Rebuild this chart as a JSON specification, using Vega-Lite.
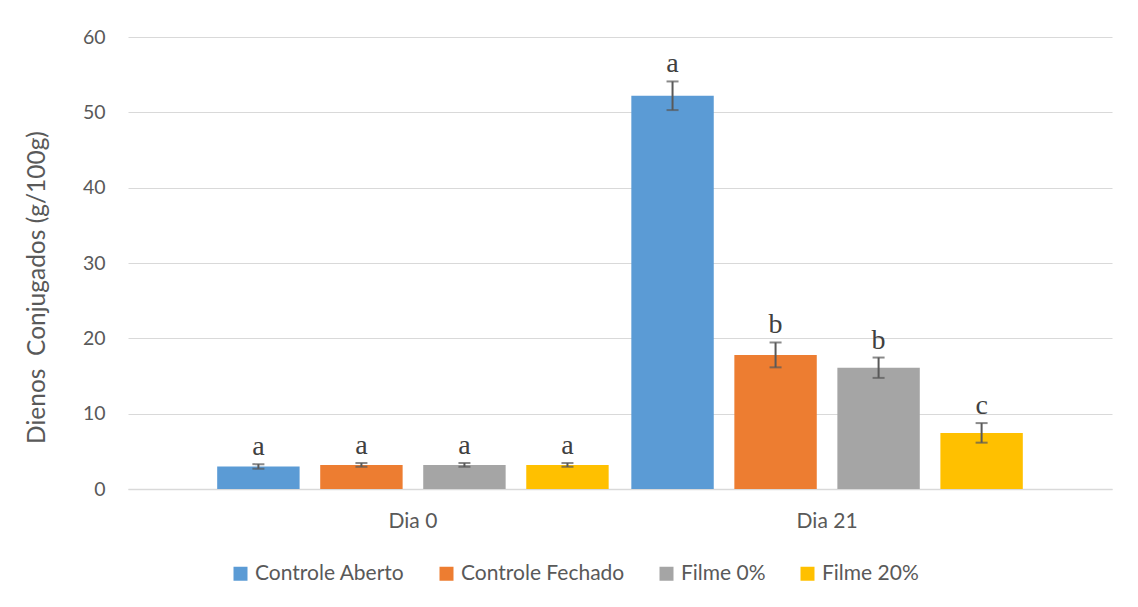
{
  "$schema": "https://vega.github.io/schema/vega-lite/v6.json",
  "autosize": "none",
  "width": 984,
  "height": 452,
  "padding": {"left": 128, "top": 37, "right": 26, "bottom": 118},
  "background": "white",
  "config": {
    "view": {"stroke": null},
    "font": "Lato",
    "axis": {"labelFont": "Lato", "titleFont": "Lato", "labelColor": "#595959", "titleColor": "#595959", "labelFontSize": 19.5, "titleFontSize": 24.5, "titleFontWeight": "normal"}
  },
  "data": {
    "values": [
      {"dia": "Dia 0", "trat": "Controle Aberto", "media": 3.0, "lo": 2.7, "hi": 3.3, "letra": "a"},
      {"dia": "Dia 0", "trat": "Controle Fechado", "media": 3.2, "lo": 2.95, "hi": 3.45, "letra": "a"},
      {"dia": "Dia 0", "trat": "Filme 0%", "media": 3.2, "lo": 2.95, "hi": 3.45, "letra": "a"},
      {"dia": "Dia 0", "trat": "Filme 20%", "media": 3.2, "lo": 2.95, "hi": 3.45, "letra": "a"},
      {"dia": "Dia 21", "trat": "Controle Aberto", "media": 52.2, "lo": 50.3, "hi": 54.1, "letra": "a"},
      {"dia": "Dia 21", "trat": "Controle Fechado", "media": 17.8, "lo": 16.15, "hi": 19.45, "letra": "b"},
      {"dia": "Dia 21", "trat": "Filme 0%", "media": 16.1, "lo": 14.75, "hi": 17.45, "letra": "b"},
      {"dia": "Dia 21", "trat": "Filme 20%", "media": 7.45, "lo": 6.15, "hi": 8.75, "letra": "c"}
    ]
  },
  "encoding": {
    "x": {
      "field": "dia", "type": "nominal",
      "scale": {"paddingInner": 0, "paddingOuter": 0.188},
      "axis": {"title": null, "labelAngle": 0, "ticks": false, "labelPadding": 21, "labelFontSize": 21, "domainColor": "#d9d9d9", "domainWidth": 1.5, "grid": false}
    },
    "xOffset": {
      "field": "trat", "type": "nominal",
      "scale": {"paddingInner": 0.2, "paddingOuter": 0.11}
    }
  },
  "layer": [
    {
      "mark": {"type": "bar"},
      "encoding": {
        "y": {
          "field": "media", "type": "quantitative",
          "scale": {"domain": [0, 60], "nice": false},
          "axis": {
            "title": "Dienos\u00a0 Conjugados (g/100g)",
            "values": [0, 10, 20, 30, 40, 50, 60],
            "ticks": false, "domain": false, "labelPadding": 23,
            "gridColor": "#d9d9d9", "gridWidth": 1.2,
            "titleX": -91, "titleY": 250, "titleAlign": "center", "titleBaseline": "middle"
          }
        },
        "color": {
          "field": "trat", "type": "nominal",
          "scale": {
            "domain": ["Controle Aberto", "Controle Fechado", "Filme 0%", "Filme 20%"],
            "range": ["#5B9BD5", "#ED7D31", "#A5A5A5", "#FFC000"]
          },
          "legend": {
            "title": null, "orient": "none", "direction": "horizontal",
            "legendX": 102, "legendY": 526,
            "symbolType": "square", "symbolSize": 196, "symbolStrokeWidth": 0,
            "labelFont": "Lato", "labelFontSize": 21, "labelColor": "#595959",
            "labelLimit": 400, "labelOffset": 4, "columnPadding": 31
          }
        }
      }
    },
    {
      "mark": {"type": "rule", "color": "#595959", "strokeWidth": 2},
      "encoding": {
        "y": {"field": "lo", "type": "quantitative"},
        "y2": {"field": "hi"}
      }
    },
    {
      "mark": {"type": "tick", "color": "#595959", "thickness": 2, "size": 12},
      "encoding": {"y": {"field": "lo", "type": "quantitative"}}
    },
    {
      "mark": {"type": "tick", "color": "#595959", "thickness": 2, "size": 12},
      "encoding": {"y": {"field": "hi", "type": "quantitative"}}
    },
    {
      "mark": {"type": "text", "font": "Liberation Serif", "fontSize": 28, "color": "#404040", "dy": -9, "baseline": "alphabetic"},
      "encoding": {
        "y": {"field": "hi", "type": "quantitative"},
        "text": {"field": "letra"}
      }
    }
  ]
}
